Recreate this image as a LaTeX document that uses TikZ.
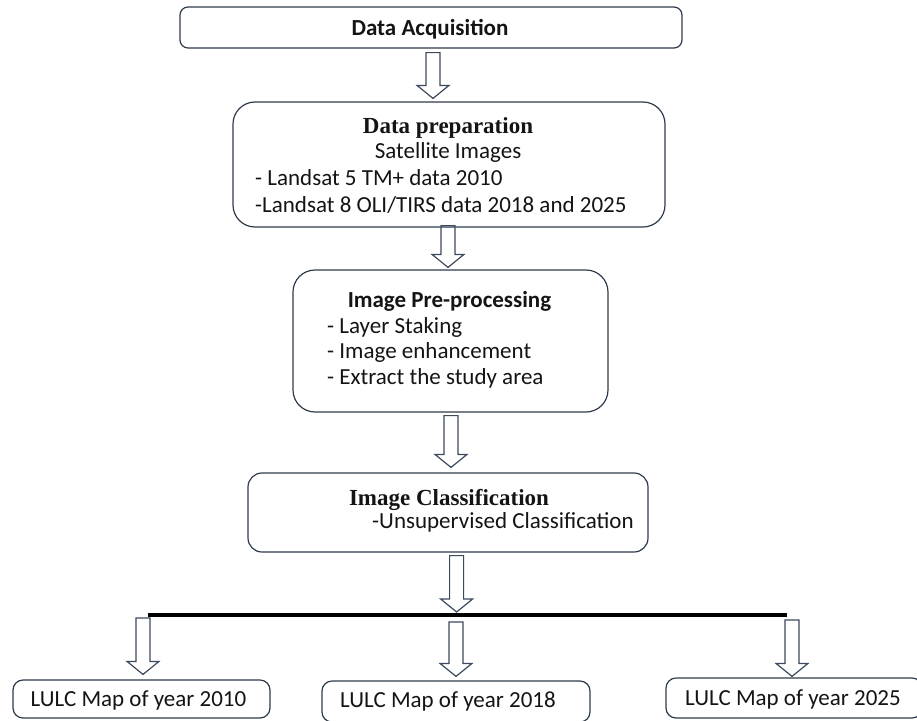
\documentclass[tikz,border=0pt]{standalone}
\usepackage{fontspec}
\setmainfont{Carlito}
\newfontfamily\titleserif{Liberation Serif}
\usepackage{tikz}
\usetikzlibrary{calc,positioning}
\definecolor{fcEdge}{RGB}{46,58,74}
\definecolor{fcArrow}{RGB}{60,74,92}
\definecolor{fcInk}{RGB}{20,20,20}
\newcommand{\fcsize}{\fontsize{23}{27}\selectfont}
\newcommand{\hollowarrow}[2]{%
  \draw[fcArrow,line width=1.2pt,line join=miter] let \p1=#1, \p2=#2 in
    (\x2-7pt,\y1) -- (\x2-7pt,\y2+13pt) -- (\x2-16pt,\y2+13pt) -- (\x2,\y2)
    -- (\x2+16pt,\y2+13pt) -- (\x2+7pt,\y2+13pt) -- (\x2+7pt,\y1) -- cycle;
}
\tikzset{
  flowbox/.style={draw=fcEdge,line width=1.2pt,rounded corners=#1,inner sep=0pt},
  flowbox/.default=10pt,
  linetxt/.style={anchor=base west,inner sep=0pt,font=\fcsize,text=fcInk},
  midtxt/.style={anchor=base,inner sep=0pt,font=\fcsize,text=fcInk},
}

\begin{document}
\begin{tikzpicture}[x=1pt,y=-1pt]
  \useasboundingbox (0,0) rectangle (917,720);
  % boxes
  \node[flowbox=8pt,minimum width=502pt,minimum height=41pt] (acq) at (431,27.5) {};
  \node[flowbox=22pt,minimum width=432pt,minimum height=125pt] (prep) at (449,164.5) {};
  \node[flowbox=22pt,minimum width=315pt,minimum height=142pt] (pre) at (450.5,341) {};
  \node[flowbox=14pt,minimum width=400pt,minimum height=79pt] (cls) at (448,512.5) {};
  \node[flowbox,minimum width=257pt,minimum height=38pt] (m2010) at (141.5,699) {};
  \node[flowbox,minimum width=268pt,minimum height=41pt] (m2018) at (456,701.5) {};
  \node[flowbox,minimum width=256pt,minimum height=40pt] (m2025) at (794,698) {};

  % texts
  \node[midtxt,font=\fcsize\bfseries] (acqT) at (430,35.5) {Data Acquisition};
  \node[midtxt,font=\fcsize\titleserif\bfseries] (prepT) at (448,133) {Data preparation};
  \node[midtxt] (prepS) at (448,158) {Satellite Images};
  \node[linetxt] (prepA) at (255,185) {- Landsat 5 TM+ data 2010};
  \node[linetxt] (prepB) at (255,212) {-Landsat 8 OLI/TIRS data 2018 and 2025};
  \node[midtxt,font=\fcsize\bfseries] (preT) at (449.5,307) {Image Pre-processing};
  \node[linetxt] (preA) at (327,333) {- Layer Staking};
  \node[linetxt] (preB) at (327,358) {- Image enhancement};
  \node[linetxt] (preC) at (327,384) {- Extract the study area};
  \node[midtxt,font=\fcsize\titleserif\bfseries] (clsT) at (449,505) {Image Classification};
  \node[linetxt] (clsA) at (372,528) {-Unsupervised Classification};
  \node[midtxt] (m2010T) at (138.5,706) {LULC Map of year 2010};
  \node[midtxt] (m2018T) at (448,707) {LULC Map of year 2018};
  \node[midtxt] (m2025T) at (793,705) {LULC Map of year 2025};

  % branching bar
  \coordinate (barL) at (148,615);
  \coordinate (barR) at (787,615);
  \draw[black,line width=3.5pt] (barL) -- (barR);

  % block arrows
  \hollowarrow{($(acq.south)+(2,4)$)}{($(prep.north)+(-16,-3)$)}
  \hollowarrow{($(prep.south)+(0,-2)$)}{($(pre.north)+(-2.5,-2)$)}
  \hollowarrow{($(pre.south)+(0,3)$)}{($(cls.north)+(3,-5)$)}
  \hollowarrow{($(cls.south)+(0,3)$)}{($(barL)!0.483!(barR)+(0,-3)$)}
  \hollowarrow{($(barL)+(0,3)$)}{($(m2010.north)+(1.5,-5)$)}
  \hollowarrow{($(barL)!0.483!(barR)+(0,7)$)}{($(m2018.north)+(0,-4)$)}
  \hollowarrow{($(barR)+(0,5)$)}{($(m2025.north)+(-2,-1)$)}
\end{tikzpicture}
\end{document}
